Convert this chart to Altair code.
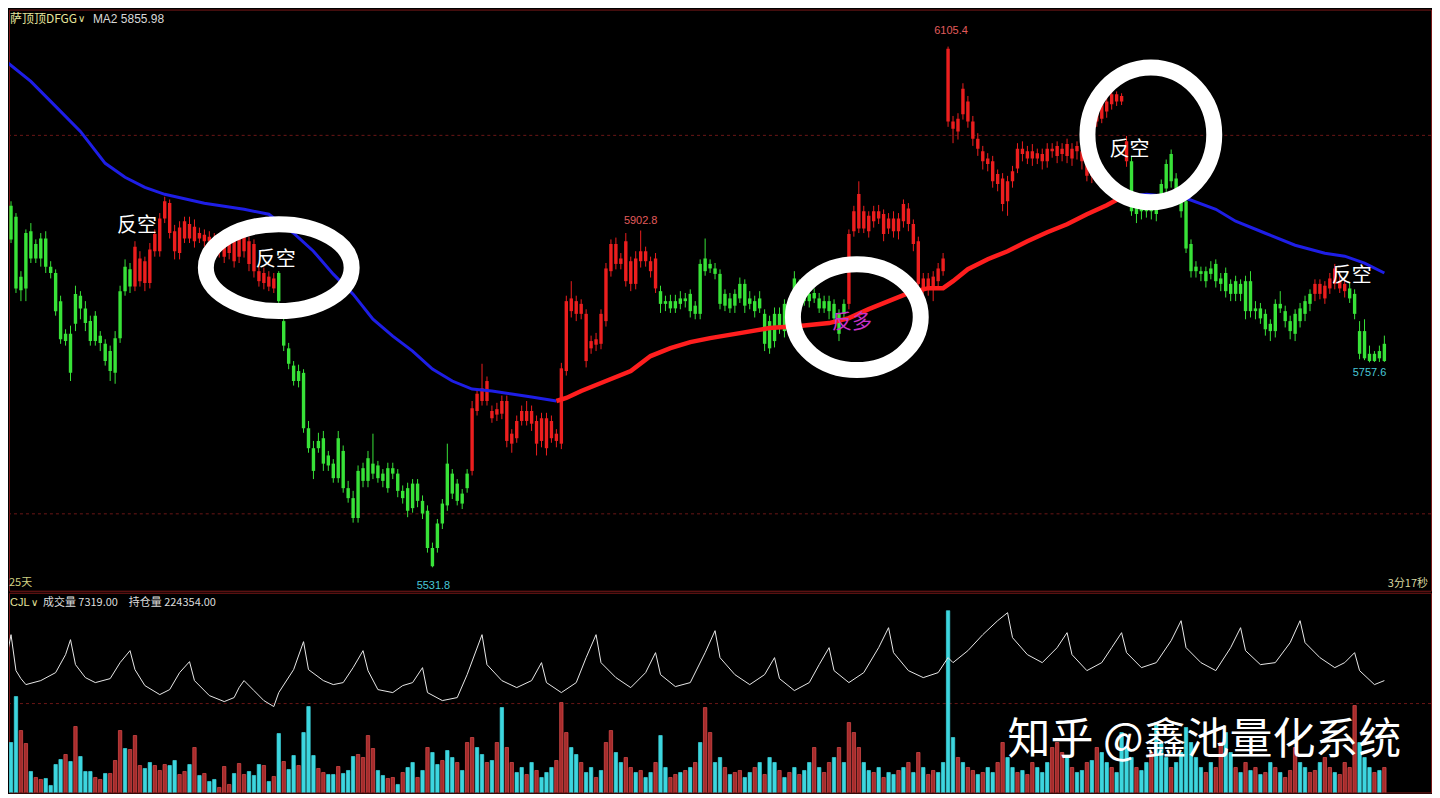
import altair as alt
import pandas as pd

# ---------------- data (candle index = time) ----------------
closes = [
 5957,5930,5918,5852,5900,5902,5888,5894,5894,5863,
 5856,5825,5789,5789,5833,5831,5817,5803,5809,5787,
 5778,5770,5784,5836,5863,5860,5885,5872,5869,5882,
 5899,5916,5935,5933,5902,5906,5913,5910,5907,5900,
 5898,5896,5893,5891,5891,5893,5891,5894,5899,5891,
 5888,5858,5856,5852,5850,5856,5803,5773,5754,5748,
 5746,5685,5663,5671,5674,5655,5646,5674,5660,5619,
 5608,5638,5641,5652,5646,5644,5635,5641,5641,5635,
 5616,5619,5624,5624,5605,5594,5553,5580,5602,5646,
 5635,5624,5613,5635,5707,5723,5729,5737,5704,5706,
 5715,5715,5679,5693,5704,5704,5704,5693,5696,5696,
 5693,5679,5751,5825,5828,5825,5822,5811,5781,5783,
 5811,5861,5888,5888,5872,5891,5869,5872,5880,5880,
 5869,5872,5836,5825,5825,5825,5828,5828,5833,5820,
 5866,5872,5866,5861,5855,5833,5828,5833,5844,5844,
 5828,5825,5828,5811,5803,5811,5811,5822,5817,5850,
 5844,5833,5833,5834,5828,5825,5825,5822,5811,5822,
 5899,5924,5943,5924,5919,5924,5924,5921,5916,5916,
 5916,5932,5927,5910,5891,5850,5850,5852,5861,5872,
 6103,6023,6026,6059,6045,6023,6004,5990,5982,5979,
 5965,5960,5957,5968,5993,5993,5990,5990,5988,5987,
 5993,5993,5996,5993,5998,5993,5996,5990,5979,5974,
 6042,6042,6045,6053,6053,6051,6001,5979,5932,5932,
 5932,5927,5932,5954,5976,5987,5960,5943,5935,5888,
 5863,5858,5858,5861,5866,5850,5856,5844,5847,5844,
 5847,5847,5817,5817,5811,5800,5822,5822,5814,5803,
 5811,5817,5825,5833,5844,5844,5842,5850,5861,5847,
 5844,5839,5833,5792,5792,5767,5767,5770,5778]
opens = [
 5932,5893,5839,5837,5839,5872,5872,5872,5863,5856,
 5814,5783,5781,5746,5800,5817,5801,5781,5781,5779,
 5759,5748,5746,5784,5836,5841,5841,5847,5845,5845,
 5880,5880,5916,5900,5880,5878,5894,5894,5891,5894,
 5891,5891,5885,5880,5874,5878,5869,5874,5880,5866,
 5858,5847,5845,5841,5839,5825,5776,5756,5737,5737,
 5685,5663,5638,5663,5646,5644,5630,5630,5619,5608,
 5586,5586,5627,5627,5635,5630,5627,5619,5635,5616,
 5608,5594,5597,5605,5591,5553,5533,5553,5580,5600,
 5613,5605,5602,5619,5638,5704,5715,5715,5696,5700,
 5701,5671,5668,5674,5693,5693,5690,5668,5671,5663,
 5674,5671,5668,5748,5814,5811,5811,5759,5773,5777,
 5778,5803,5858,5866,5866,5847,5844,5844,5869,5869,
 5858,5839,5822,5822,5817,5817,5822,5825,5814,5811,
 5811,5858,5861,5855,5822,5820,5817,5820,5828,5820,
 5822,5814,5817,5778,5773,5781,5795,5792,5814,5828,
 5828,5825,5825,5828,5817,5817,5814,5806,5789,5811,
 5822,5902,5905,5905,5902,5913,5916,5899,5905,5902,
 5902,5913,5910,5888,5844,5839,5839,5839,5847,5858,
 6023,6015,6012,6031,6023,6004,5993,5979,5976,5957,
 5954,5932,5935,5957,5971,5987,5982,5982,5982,5979,
 5979,5990,5985,5987,5985,5982,5990,5979,5963,5963,
 6023,6026,6034,6042,6045,6045,5979,5924,5921,5924,
 5924,5924,5921,5935,5949,5957,5946,5924,5883,5858,
 5858,5855,5847,5855,5847,5844,5836,5833,5833,5833,
 5814,5814,5814,5806,5794,5792,5792,5817,5803,5792,
 5789,5803,5811,5822,5833,5833,5828,5839,5844,5839,
 5836,5828,5811,5767,5762,5759,5759,5762,5759]
highs = [
 5961,5935,5922,5858,5904,5911,5893,5900,5902,5869,
 5860,5831,5794,5798,5842,5836,5825,5809,5814,5792,
 5783,5776,5792,5842,5871,5867,5891,5880,5874,5889,
 5904,5922,5940,5937,5909,5913,5918,5918,5915,5906,
 5904,5902,5900,5896,5896,5900,5896,5900,5904,5896,
 5893,5863,5862,5858,5856,5858,5809,5779,5759,5755,
 5750,5693,5671,5680,5682,5660,5651,5682,5666,5627,
 5616,5644,5647,5660,5679,5649,5640,5647,5647,5640,
 5622,5625,5629,5629,5611,5600,5559,5585,5607,5668,
 5640,5629,5618,5640,5715,5728,5756,5742,5710,5713,
 5721,5721,5684,5699,5710,5715,5710,5699,5702,5702,
 5699,5684,5757,5831,5847,5831,5827,5816,5787,5790,
 5816,5867,5893,5895,5878,5900,5874,5880,5902.8,5885,
 5874,5878,5842,5831,5832,5832,5836,5834,5838,5825,
 5871,5894,5871,5867,5860,5838,5834,5838,5851,5849,
 5836,5831,5836,5816,5809,5818,5818,5827,5825,5858,
 5849,5838,5838,5839,5834,5831,5831,5827,5816,5827,
 5904,5930,5957,5930,5924,5930,5931,5926,5922,5924,
 5922,5937,5933,5915,5896,5856,5856,5858,5867,5878,
 6105.4,6029,6032,6065,6051,6029,6010,5996,5988,5985,
 5970,5966,5963,5974,5999,6001,5996,5998,5993,5993,
 5999,5999,6001,5999,6004,5999,6001,5996,5985,5979,
 6047,6047,6051,6056,6056,6054,6007,5985,5937,5937,
 5937,5935,5939,5959,5981,5992,5966,5948,5940,5893,
 5869,5863,5863,5869,5871,5856,5862,5849,5853,5849,
 5853,5858,5825,5823,5816,5805,5827,5836,5820,5809,
 5816,5823,5831,5838,5849,5849,5847,5856,5866,5853,
 5849,5845,5838,5803,5805,5776,5770,5776,5787]
lows = [
 5926,5889,5834,5825,5825,5867,5867,5863,5856,5850,
 5809,5778,5776,5737,5792,5805,5792,5776,5776,5770,
 5754,5737,5734,5779,5831,5834,5836,5841,5836,5839,
 5874,5874,5911,5894,5871,5871,5889,5889,5884,5889,
 5885,5884,5880,5873,5867,5871,5862,5867,5873,5858,
 5851,5841,5838,5836,5834,5820,5770,5750,5732,5730,
 5680,5658,5629,5658,5638,5638,5625,5625,5614,5603,
 5581,5581,5620,5620,5629,5625,5620,5614,5629,5609,
 5602,5587,5592,5598,5585,5548,5531.8,5548,5574,5594,
 5607,5600,5596,5614,5633,5699,5710,5710,5691,5693,
 5695,5664,5658,5669,5688,5688,5682,5655,5664,5655,
 5669,5664,5662,5743,5807,5803,5805,5752,5767,5770,
 5772,5797,5852,5860,5860,5841,5836,5838,5862,5863,
 5851,5834,5812,5814,5812,5812,5816,5818,5807,5805,
 5805,5853,5856,5849,5816,5814,5812,5812,5823,5812,
 5816,5807,5812,5770,5767,5774,5789,5785,5807,5823,
 5823,5820,5818,5823,5812,5812,5805,5801,5781,5805,
 5816,5896,5900,5900,5895,5906,5910,5891,5899,5895,
 5893,5906,5902,5880,5836,5833,5831,5825,5840,5853,
 6017,5999,6003,6025,6016,5996,5985,5970,5968,5950,
 5946,5924,5919,5950,5966,5979,5976,5974,5976,5970,
 5972,5983,5977,5979,5977,5974,5981,5970,5957,5955,
 6017,6021,6027,6036,6040,6041,5973,5919,5911,5915,
 5917,5915,5913,5928,5944,5950,5939,5917,5878,5851,
 5851,5847,5840,5849,5840,5836,5829,5825,5825,5825,
 5805,5807,5805,5800,5787,5781,5785,5812,5796,5783,
 5781,5796,5803,5814,5825,5827,5822,5833,5838,5834,
 5829,5823,5805,5761,5760,5757.6,5758,5758,5758]
# trend state of each candle: G = short side (green), R = long side (red)
regime_runs = [("G", 26), ("R", 29), ("G", 39), ("R", 38), ("G", 38),
               ("R", 57), ("G", 37), ("R", 7), ("G", 8)]

# MA2 line, blue while falling, red while rising
ma_blue1_k = [0, 5, 10, 15, 20, 24, 28, 32, 40, 48, 53, 58, 62, 66, 70, 74, 78, 82, 86, 90, 94, 98, 102, 106, 111]
ma_blue1_v = [6089, 6067, 6039.5, 6012, 5976.8, 5961.4, 5950.4, 5942.7, 5932.8, 5926.2, 5920.7, 5899.8, 5880,
              5854.7, 5832.7, 5805.2, 5786.5, 5770, 5750.2, 5737, 5728.2, 5726, 5722.7, 5719.4, 5715]
ma_red_k = [111, 113, 116, 121, 126, 130, 134, 138, 142, 148, 154, 160, 166, 170, 174, 178, 182, 186, 189,
            191, 194, 198, 202, 206, 210, 214, 218, 222, 225]
ma_red_v = [5715, 5718.3, 5726, 5737, 5748, 5764.5, 5773.3, 5779.9, 5784.3, 5789.8, 5795.3, 5797.5, 5800.8,
            5806.3, 5816.2, 5825, 5833.8, 5839.3, 5839.3, 5847, 5860.2, 5871.2, 5880, 5891, 5900.9, 5909.7,
            5920.7, 5930.6, 5939.4]
ma_blue2_k = [225, 230, 238, 244, 248, 254, 260, 266, 270, 274, 278]
ma_blue2_v = [5939.4, 5942.7, 5938.3, 5926.2, 5913, 5899.8, 5886.6, 5877.8, 5874.5, 5866.8, 5855.98]

volumes = [
 1720,2320,4160,2800,2280,1160,920,840,880,600,
 1440,1640,1840,1560,2960,1760,1160,1160,920,840,
 1080,1080,1600,2800,2080,2040,2600,1400,1280,1520,
 1400,1200,1440,1400,1600,1040,1160,1440,2120,1000,
 1080,760,840,520,1360,640,1080,1480,1040,1160,
 1000,1440,1400,760,960,2680,1560,1240,1800,1400,
 2720,3760,1800,1280,1120,1040,1040,1360,1080,1200,
 1760,1840,1720,2600,2080,1200,1000,880,920,640,
 1120,1320,1520,920,1200,2120,1920,1440,1600,2000,
 1720,1520,1200,2320,2520,2120,1840,1520,1600,2320,
 3720,2120,1520,1120,1320,1040,1520,1200,920,1120,
 1320,1600,3920,2720,2120,1840,1520,1120,1320,920,
 1200,2320,2800,1920,1520,1720,1320,1120,1200,920,
 1120,1520,2600,1320,920,1040,1120,1200,1320,1520,
 2320,3720,2720,1520,1720,1320,1040,1120,1200,920,
 1120,1320,1520,1040,1720,1520,1200,920,1120,1320,
 1040,1200,1520,2120,1320,1120,1520,1720,2120,1520,
 3120,2720,2120,1520,1200,1120,1320,920,1120,1040,
 1200,1320,1520,1120,1920,1320,1040,1200,1120,1520,
 7600,2520,1720,1520,1320,1200,1040,1120,1320,1120,
 1520,2320,1720,1320,1120,1200,1040,1520,1320,1120,
 1520,2120,2320,1920,1720,1320,1120,1200,1520,1600,
 2120,1920,1520,1320,1120,2720,2120,1720,1320,1200,
 1520,1920,3120,2320,1720,1320,1520,1920,2920,2320,
 1720,1320,1120,1520,1320,2320,2720,1920,1320,1120,
 1520,1200,1320,1040,1120,1520,1320,1120,920,1200,
 2120,1520,1320,1120,1200,1520,1720,1320,1120,1040,
 1520,1320,3800,2320,1720,1320,1120,1200,1320]
vol_side = ("cccrrcrrcc" "ccrcrcccrr" "crrrcrrrcc" "rrrccrrcrc" "rccrrrcrrc" "ccrcrcrccr"
            "cccrrccrcc" "crrrrccrrc" "rccrcrccrc" "crcrrccrcr" "crrccrcrcc" "crrrccrccr"
            "crrccrrcrc" "crccrrcrcr" "crrccrcrrc" "crcrccrcrc" "rccrcrrcrc" "rrrccrcrcc"
            "rcrcrcrrcc" "ccrcrrcrcc" "rrccrcrrcc" "crrrcrccrc" "rccrccccrc" "crcccrcccc"
            "ccrcrrccrc" "rcrcrcrcrr" "rccrrcrrcr" "rrrcccrcr")

oi_k = [0, 1, 2, 3, 4, 7, 10, 12, 13, 14, 16, 18, 21, 23, 25, 26, 28, 31, 33, 35, 37, 38, 41, 44, 46, 47, 48,
        50, 52, 54, 55, 58, 60, 61, 64, 66, 68, 70, 72, 73, 75, 78, 80,
        82, 84, 85, 88, 91, 93, 96, 97, 100, 103, 106, 108, 109, 112, 115, 117, 119, 120, 123, 126, 129, 131,
        132, 135, 138, 141, 143, 144, 147, 150, 153, 155, 156, 159, 162, 164, 166, 167, 170, 173, 176, 178,
        179, 182, 185, 188, 190, 191, 194, 197, 200, 202, 203, 206, 209, 212, 214, 215, 218, 221, 223, 225,
        226, 229, 232, 235, 237, 238, 241, 244, 247, 249, 250, 253, 256, 259, 261, 262, 265, 268, 270, 272,
        273, 276, 278]
oi_v = [226354, 228954, 225354, 224554, 223954, 224354, 225154, 226954, 228454, 225954, 224654, 224154,
        224554, 226154, 227354, 225454, 223854, 222954, 223454, 225154, 226254, 224354, 222854, 222254,
        222654, 223654, 224354, 223354, 222354, 221754, 223154, 225454, 228254, 225454, 224354, 223954,
        224154, 225654, 227354, 225354, 223454, 223154, 223854,
        224154, 225654, 223154, 222354, 222654, 224954, 228954, 225954, 224354, 223654, 224354, 226154,
        224154, 223154, 224154, 226654, 228954, 226154, 224654, 223654, 225154, 227154,
        224954, 223754, 224154, 227154, 229354, 226654, 224954, 223954, 224954, 226654, 224554, 223354,
        224154, 225954, 227654, 225354, 224154, 225154, 227654, 229654,
        227154, 225354, 224654, 225154, 226654, 226154, 227354, 228954, 230354, 231154, 228654, 226954,
        226154, 227654, 229154, 226954, 225354, 226154, 227654, 229154,
        227154, 225654, 226154, 228354, 230354, 227654, 226154, 225354, 227654, 229654, 227354, 225954,
        226154, 228154, 230354, 228154, 226654, 225654, 226154, 227154,
        225354, 223954, 224354]

ann_k = [26.4, 54.4, 226.6, 271.4, 170.6]
ann_p = [5907.5, 5870, 5992, 5852.5, 5800.8]
ann_t = ["反空", "反空", "反空", "反空", "反多"]
ann_c = ["#ffffff", "#ffffff", "#ffffff", "#ffffff", "#c832c8"]

lab_k = [190.6, 128, 86.2, 275]
lab_p = [6123, 5913, 5511.5, 5746]
lab_t = ["6105.4", "5902.8", "5531.8", "5757.6"]
lab_c = ["#e25c5c", "#e25c5c", "#48c8d8", "#48c8d8"]

ring_k = [55, 171.6, 230.9]
ring_p = [5861.9, 5807.4, 6008.2]
ring_ratio = [0.596, 0.828, 1.063]
ring_size = [21316, 16384, 16129]

grid_p = [6007.6, 5590.7]
grid_vol = [3880]

# ---------------- frames ----------------
n = len(closes)
assert len(opens) == n and len(highs) == n and len(lows) == n, (len(opens), len(highs), len(lows), n)
assert len(volumes) == n and len(vol_side) == n, (len(volumes), len(vol_side), n)
regime = []
for r, m in regime_runs:
    regime += [r] * m
assert len(regime) == n

cdf = pd.DataFrame({"k": list(range(n)), "open": opens, "close": closes, "high": highs,
                    "low": lows, "regime": regime})
vdf = pd.DataFrame({"k": list(range(n)), "vol": volumes,
                    "fill": ["#3dd6df" if s == "c" else "#a62c2c" for s in vol_side],
                    "edge": ["#3dd6df" if s == "c" else "#e04c4c" for s in vol_side]})
blue_df = pd.DataFrame({"k": ma_blue1_k + ma_blue2_k, "ma": ma_blue1_v + ma_blue2_v,
                        "seg": ["a"] * len(ma_blue1_k) + ["b"] * len(ma_blue2_k)})
red_df = pd.DataFrame({"k": ma_red_k, "ma": ma_red_v})
oi_df = pd.DataFrame({"k": oi_k, "oi": oi_v})
ann_df = pd.DataFrame({"k": ann_k, "p": ann_p, "t": ann_t, "c": ann_c})
lab_df = pd.DataFrame({"k": lab_k, "p": lab_p, "t": lab_t, "c": lab_c})
ring_df = pd.DataFrame({
    "k": ring_k, "p": ring_p, "size": ring_size,
    "shape": [f"M -1 0 A 1 {r} 0 1 1 1 0 A 1 {r} 0 1 1 -1 0 Z" for r in ring_ratio]})

W = 1424
XS = alt.Scale(domain=[1.6, 286.4], nice=False, zero=False)
YS = alt.Scale(domain=[5506, 6146.2], nice=False, zero=False)
VS = alt.Scale(domain=[320, 8320], nice=False, zero=False)
OS = alt.Scale(domain=[213154, 233154], nice=False, zero=False)
X = alt.X("k:Q", scale=XS, axis=None)
COL = alt.Color("regime:N", scale=alt.Scale(domain=["G", "R"], range=["#38e238", "#ec1e1e"]), legend=None)

CJK = "Noto Sans CJK SC"

grid = alt.Chart(pd.DataFrame({"p": grid_p})).mark_rule(
    color="#6a1616", strokeDash=[3, 3], strokeWidth=1).encode(y=alt.Y("p:Q", scale=YS, axis=None))
wick = alt.Chart(cdf).mark_rule(strokeWidth=1, clip=True).encode(
    x=X, y=alt.Y("low:Q", scale=YS, axis=None), y2="high:Q", color=COL)
body = alt.Chart(cdf).mark_bar(width=3.4, clip=True, orient="vertical").encode(
    x=X, y=alt.Y("open:Q", scale=YS, axis=None), y2="close:Q", color=COL)
blue = alt.Chart(blue_df).mark_line(color="#1e1ee6", strokeWidth=3, clip=True).encode(
    x=X, y=alt.Y("ma:Q", scale=YS, axis=None), detail="seg:N")
red = alt.Chart(red_df).mark_line(color="#ff1e1e", strokeWidth=4.5, clip=True).encode(
    x=X, y=alt.Y("ma:Q", scale=YS, axis=None))
ann = alt.Chart(ann_df).mark_text(font=CJK, fontSize=20, align="center", baseline="middle").encode(
    x=X, y=alt.Y("p:Q", scale=YS, axis=None), text="t:N", color=alt.Color("c:N", scale=None))
labs = alt.Chart(lab_df).mark_text(font="Liberation Sans", fontSize=11, align="center", baseline="middle").encode(
    x=X, y=alt.Y("p:Q", scale=YS, axis=None), text="t:N", color=alt.Color("c:N", scale=None))
rings = alt.Chart(ring_df).mark_point(filled=False, stroke="#ffffff", strokeWidth=16, opacity=1).encode(
    x=X, y=alt.Y("p:Q", scale=YS, axis=None),
    shape=alt.Shape("shape:N", scale=None), size=alt.Size("size:Q", scale=None))


def label(text, x, y, color, size=12, align="left", font=CJK, weight="normal"):
    return alt.Chart(pd.DataFrame({"t": [text]})).mark_text(
        align=align, baseline="middle", color=color, fontSize=size, font=font, fontWeight=weight
    ).encode(x=alt.value(x), y=alt.value(y), text="t:N")


main = alt.layer(
    grid, wick, body, blue, red, ann, labs, rings,
    label("萨顶顶DFGG", 1, 9, "#e4e49c", size=12),
    label("∨", 69, 9, "#e4e49c", size=10, font="DejaVu Sans"),
    label("MA2 5855.98", 84, 9, "#d8d8d8", size=12, font="Liberation Sans"),
    label("25天", 0, 574, "#cfcf80", size=11),
    label("3分17秒", 1421, 575, "#d8d8a0", size=11, align="right"),
).properties(width=W, height=582)

vbars = alt.Chart(vdf).mark_bar(width=3.4, clip=True, strokeWidth=0.7, orient="vertical").encode(
    x=X, y=alt.Y("vol:Q", scale=VS, axis=None),
    fill=alt.Fill("fill:N", scale=None), stroke=alt.Stroke("edge:N", scale=None))
vgrid = alt.Chart(pd.DataFrame({"v": grid_vol})).mark_rule(
    color="#6a1616", strokeDash=[3, 3], strokeWidth=1).encode(y=alt.Y("v:Q", scale=VS, axis=None))
oi = alt.Chart(oi_df).mark_line(color="#e8e8e8", strokeWidth=1, clip=True).encode(
    x=X, y=alt.Y("oi:Q", scale=OS, axis=None))

vol = alt.layer(
    vgrid, vbars, oi,
    label("CJL", 1, 10, "#e4e49c", size=11, font="Liberation Sans"),
    label("∨", 22, 10, "#e4e49c", size=10, font="DejaVu Sans"),
    label("成交量 7319.00", 34, 10, "#dcdcdc", size=11),
    label("持仓量 224354.00", 120, 10, "#dcdcdc", size=11),
    label("知乎 @鑫池量化系统", 1000, 148, "#ffffff", size=43),
).resolve_scale(y="independent").properties(width=W, height=200)

chart = alt.vconcat(main, vol, spacing=0).properties(
    padding=0, background="#000000"
).configure_view(stroke="#7a1818", strokeWidth=1)

chart.save("out.html", embed_options={"renderer": "svg", "actions": False})
